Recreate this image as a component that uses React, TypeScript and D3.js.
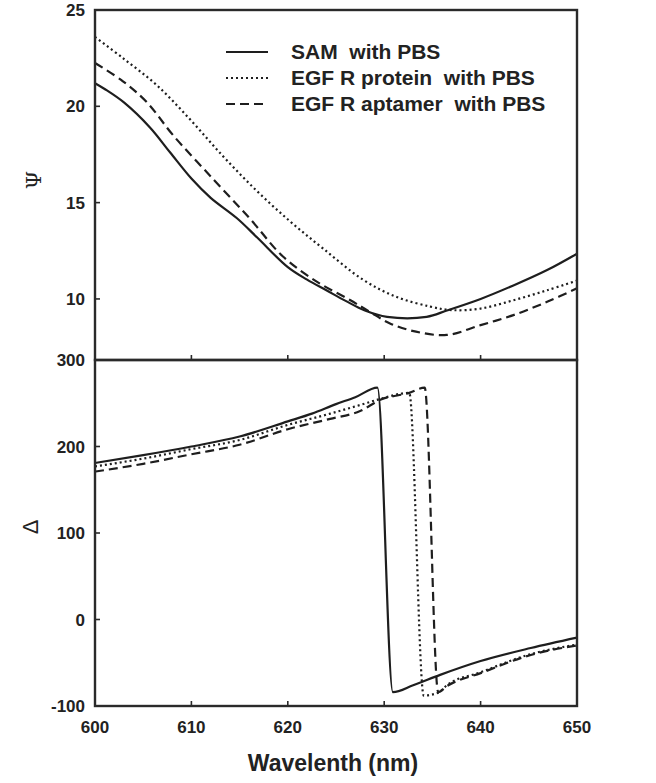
import React from "react";
import * as d3 from "d3";

// Psi (top panel)
const samPsiX = [600, 601, 603, 605.7, 607.8, 610, 612, 614.7, 616.8, 620, 622, 624, 626, 628, 630.3, 634.4, 636.5, 640, 643.4, 646.9, 650];
const samPsiY = [21.2, 20.9, 20.2, 18.9, 17.6, 16.25, 15.25, 14.2, 13.2, 11.65, 11.0, 10.45, 9.9, 9.4, 9.07, 9.07, 9.4, 10.0, 10.7, 11.5, 12.35];

const proteinPsiX = [600, 602.9, 606.4, 609.9, 613.3, 616.8, 620.3, 623.7, 627.8, 631.3, 634.8, 637, 640, 643.4, 646.9, 650];
const proteinPsiY = [23.6, 22.5, 21.1, 19.3, 17.4, 15.6, 14.0, 12.6, 11.0, 10.1, 9.6, 9.42, 9.5, 9.93, 10.45, 10.95];

const aptamerPsiX = [600, 602.9, 605.4, 608.1, 612.3, 616.1, 619.5, 623, 626.5, 628.5, 630.6, 633.3, 636.5, 640, 643.4, 646.9, 650];
const aptamerPsiY = [22.25, 21.3, 20.2, 18.5, 16.2, 14.15, 12.2, 10.9, 9.93, 9.33, 8.73, 8.3, 8.13, 8.64, 9.16, 9.85, 10.55];

// Delta (bottom panel)
const samDelX = [600, 605, 610, 615, 620, 622.5, 625, 627, 629.3, 630.9, 633, 635.8, 640, 645.2, 650];
const samDelY = [181, 190, 200, 211.5, 229, 238, 249, 257, 268, -84, -76, -64, -48, -33, -21];

const proteinDelX = [600, 605, 610, 615, 620, 624.4, 627.5, 629.6, 632.6, 634.1, 635.7, 636.5, 640, 645.2, 650];
const proteinDelY = [177, 186, 197, 207.5, 225, 238, 248, 255, 262, -88, -84, -76, -61, -40, -29];

const aptamerDelX = [600, 605, 610, 615, 620, 624.4, 627.5, 629.6, 632.6, 634.2, 635.6, 636.5, 640, 645.2, 650];
const aptamerDelY = [171, 180, 191, 202, 220, 232, 241, 254, 262, 268, -84, -77, -62, -41, -30];

const xTicks = [600, 610, 620, 630, 640, 650];
const psiTicks = [25, 20, 15, 10];
const delTicks = [300, 200, 100, 0, -100];

const legendLabels = ["SAM  with PBS", "EGF R protein  with PBS", "EGF R aptamer  with PBS"];
const dashes = ["none", "2,3", "9,5"];

const W = 656;
const H = 783;
const left = 95;
const right = 577;
const top = 10;
const mid = 360;
const bottom = 706;
const ink = "#1e1e1e";
const font = "'Liberation Sans', Arial, sans-serif";

export default function App() {
  const x = d3.scaleLinear().domain([600, 650]).range([left, right]);
  const yPsi = d3.scaleLinear().domain([6.83, 25]).range([mid, top]);
  const yDel = d3.scaleLinear().domain([-100, 300]).range([bottom, mid]);

  const zip = (xs: number[], ys: number[]) => xs.map((v, i) => [v, ys[i]] as [number, number]);

  const psiLine = d3
    .line<[number, number]>()
    .x((d) => x(d[0]))
    .y((d) => yPsi(d[1]))
    .curve(d3.curveCatmullRom.alpha(0.5));
  const delLine = d3
    .line<[number, number]>()
    .x((d) => x(d[0]))
    .y((d) => yDel(d[1]))
    .curve(d3.curveMonotoneX);

  const psiSeries = [zip(samPsiX, samPsiY), zip(proteinPsiX, proteinPsiY), zip(aptamerPsiX, aptamerPsiY)];
  const delSeries = [zip(samDelX, samDelY), zip(proteinDelX, proteinDelY), zip(aptamerDelX, aptamerDelY)];

  return (
    <svg
      width={W}
      height={H}
      style={{ position: "absolute", left: 0, top: 0, background: "#fff" }}
      fontFamily={font}
    >
      <rect width={W} height={H} fill="#fff" />

      {/* curves */}
      <g fill="none" stroke={ink} strokeWidth={2.2}>
        {psiSeries.map((s, i) => (
          <path key={"p" + i} d={psiLine(s) || ""} strokeDasharray={dashes[i]} />
        ))}
        {delSeries.map((s, i) => (
          <path key={"d" + i} d={delLine(s) || ""} strokeDasharray={dashes[i]} />
        ))}
      </g>

      {/* frames */}
      <g fill="none" stroke="#2a2a2a" strokeWidth={2.4}>
        <rect x={left} y={top} width={right - left} height={mid - top} />
        <rect x={left} y={mid} width={right - left} height={bottom - mid} />
      </g>

      {/* ticks */}
      <g stroke="#2a2a2a" strokeWidth={1.6}>
        {xTicks.slice(1, -1).map((t) => (
          <g key={"xt" + t}>
            <line x1={x(t)} x2={x(t)} y1={mid} y2={mid - 5} />
            <line x1={x(t)} x2={x(t)} y1={bottom} y2={bottom - 5} />
          </g>
        ))}
        {psiTicks.slice(1).map((t) => (
          <line key={"pt" + t} x1={left} x2={left + 5} y1={yPsi(t)} y2={yPsi(t)} />
        ))}
        {delTicks.slice(1, -1).map((t) => (
          <line key={"dt" + t} x1={left} x2={left + 5} y1={yDel(t)} y2={yDel(t)} />
        ))}
      </g>

      {/* tick labels */}
      <g fill="#222" fontSize={17} fontWeight="bold">
        {psiTicks.map((t) => (
          <text key={"pl" + t} x={left - 10} y={yPsi(t) + 6} textAnchor="end">
            {t}
          </text>
        ))}
        {delTicks.map((t) => (
          <text key={"dl" + t} x={left - 10} y={yDel(t) + 6} textAnchor="end">
            {t}
          </text>
        ))}
        {xTicks.map((t) => (
          <text key={"xl" + t} x={x(t)} y={733} textAnchor="middle">
            {t}
          </text>
        ))}
      </g>

      {/* axis titles */}
      <text
        transform="translate(41,180) rotate(-90)"
        textAnchor="middle"
        fontSize={21}
        fontFamily="'DejaVu Serif', 'Liberation Serif', serif"
        fill="#222"
      >
        Ψ
      </text>
      <text
        transform="translate(38,527) rotate(-90)"
        textAnchor="middle"
        fontSize={22}
        fill="#222"
      >
        Δ
      </text>
      <text x={333} y={771} textAnchor="middle" fontSize={23} fontWeight="bold" fill="#222">
        Wavelenth (nm)
      </text>

      {/* legend */}
      <g>
        {legendLabels.map((lab, i) => {
          const ly = 52 + i * 26;
          return (
            <g key={lab}>
              <line x1={226} x2={268} y1={ly} y2={ly} stroke={ink} strokeWidth={2.2} strokeDasharray={dashes[i]} />
              <text
                x={291}
                y={ly + 7}
                fontSize={21}
                fontWeight="bold"
                fill="#222"
                style={{ whiteSpace: "pre" }}
              >
                {lab}
              </text>
            </g>
          );
        })}
      </g>
    </svg>
  );
}
